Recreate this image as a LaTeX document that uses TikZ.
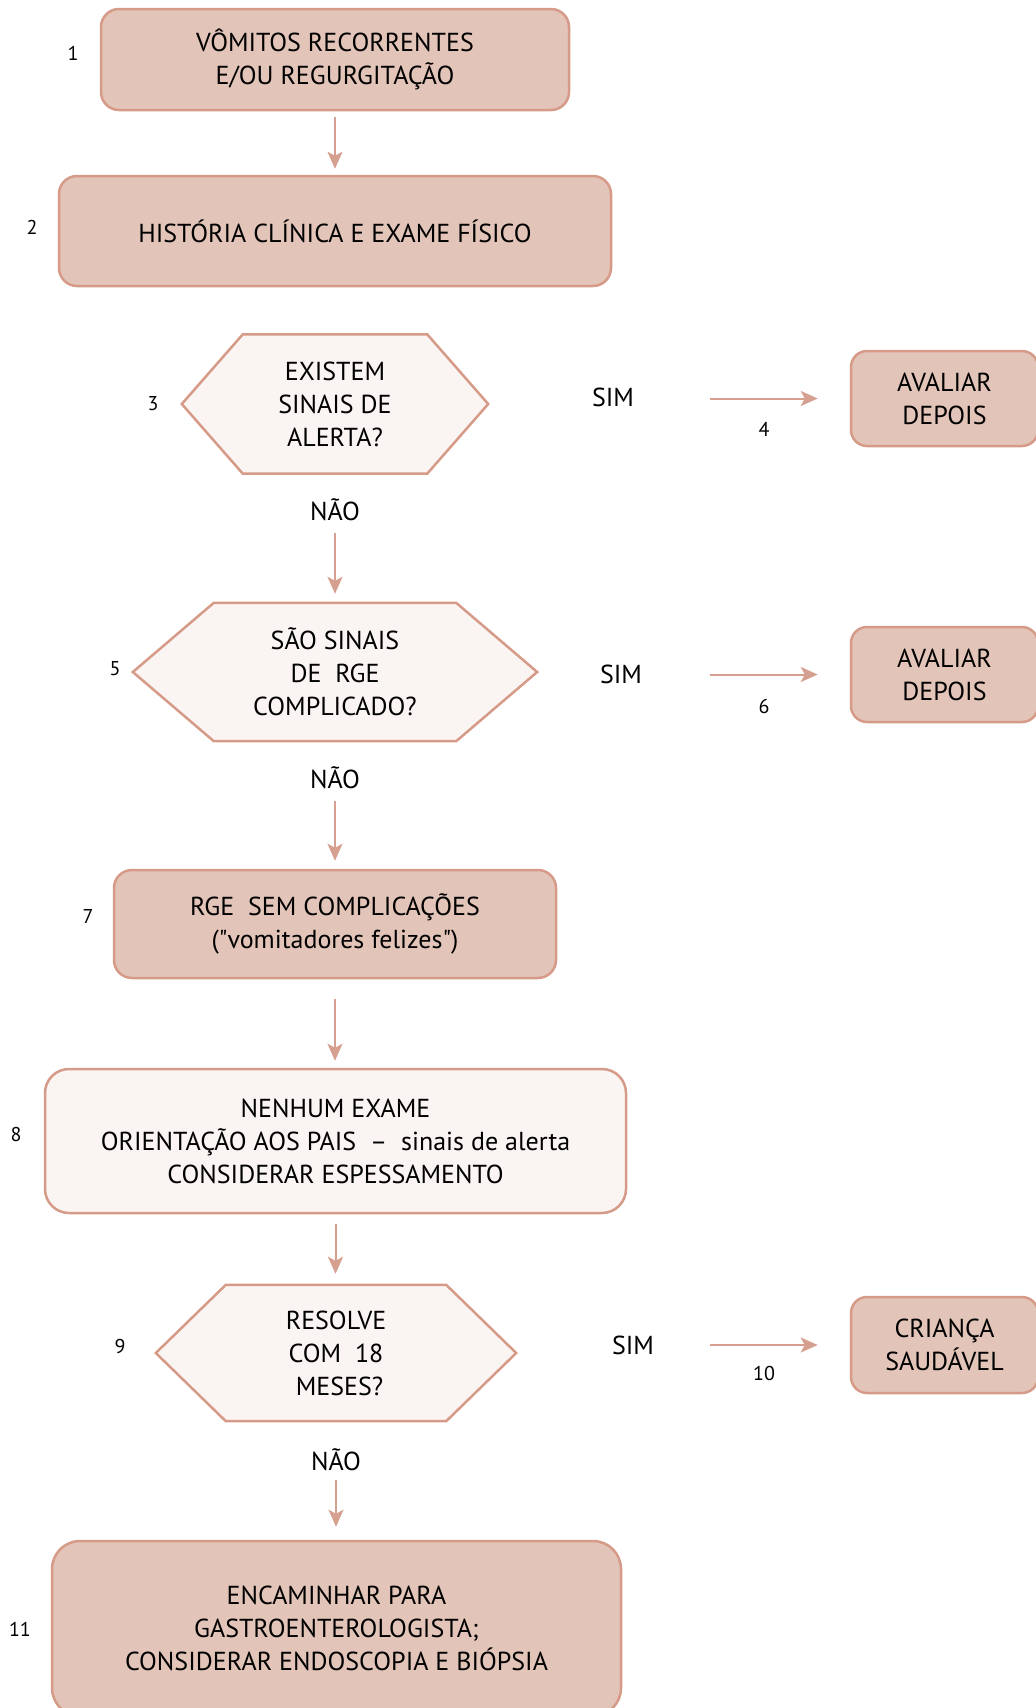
\documentclass[tikz,border=0pt]{standalone}
\usepackage{fontspec}
\setmainfont{PT Sans}
\newfontfamily\qfont{PT Sans}[Ligatures=TeXOff]
\usetikzlibrary{arrows.meta,calc,backgrounds}
\definecolor{boxfill}{RGB}{227,196,184}
\definecolor{boxline}{RGB}{214,155,136}
\definecolor{lightfill}{RGB}{250,244,242}
\definecolor{arrowc}{RGB}{214,160,144}
\newcommand{\sq}{{\qfont"}}
\begin{document}
\begin{tikzpicture}[x=1pt,y=-1pt,
  txt/.style={font=\fontsize{26}{33}\selectfont, align=center, inner sep=0pt},
  box/.style={txt, draw=boxline, line width=2.5pt, fill=boxfill, rounded corners=18pt},
  lightbox/.style={box, fill=lightfill, rounded corners=24pt},
  hexnode/.style={txt},
  hexline/.style={draw=boxline, line width=2.5pt, fill=lightfill, line join=miter},
  num/.style={font=\fontsize{20}{24}\selectfont, inner sep=0pt},
  arr/.style={draw=arrowc, line width=2pt, -{Stealth[length=17pt,width=15pt,inset=4pt]}},
]
\useasboundingbox (0,0) rectangle (1036,1708);

% row 1
\node[box, minimum width=468pt, minimum height=101pt] (b1) at (335,59.5) {VÔMITOS RECORRENTES\\E/OU REGURGITAÇÃO};
\node[num] (l1) at (73,53) {1};
% row 2
\node[box, minimum width=552pt, minimum height=110pt] (b2) at (335,231) {HISTÓRIA CLÍNICA E EXAME FÍSICO};
\node[num] (l2) at (32,227) {2};
% hex 3
\node[hexnode, minimum width=306pt, minimum height=139pt] (h3) at (335,404) {EXISTEM\\SINAIS DE\\ALERTA?};
\node[num] (l3) at (153,404) {3};
\node[txt] (s1) at (613,397) {SIM};
\node[num] (l4) at (764,429) {4};
\node[box, rounded corners=16pt, minimum width=187pt, minimum height=95pt] (b4) at (944.5,398.5) {AVALIAR\\DEPOIS};
\node[txt] (n1) at (335,510) {NÃO};
% hex 5
\node[hexnode, minimum width=404pt, minimum height=138pt] (h5) at (335,672) {SÃO SINAIS\\DE\ \ RGE\\COMPLICADO?};
\node[num] (l5) at (115,669) {5};
\node[txt] (s2) at (621,674) {SIM};
\node[num] (l6) at (764,706) {6};
\node[box, rounded corners=16pt, minimum width=187pt, minimum height=95pt] (b6) at (944.5,674.5) {AVALIAR\\DEPOIS};
\node[txt] (n2) at (335,778) {NÃO};
% box 7
\node[box, minimum width=442pt, minimum height=108pt] (b7) at (335,924) {RGE\ \ SEM COMPLICAÇÕES\\(\sq vomitadores felizes\sq)};
\node[num] (l7) at (88,916) {7};
% box 8
\node[lightbox, minimum width=581pt, minimum height=144pt] (b8) at (335.5,1141) {NENHUM EXAME\\ORIENTAÇÃO AOS PAIS\ \ –\ \ sinais de alerta\\CONSIDERAR ESPESSAMENTO};
\node[num] (l8) at (16,1134) {8};
% hex 9
\node[hexnode, minimum width=360pt, minimum height=136pt] (h9) at (336,1353) {RESOLVE\\COM\ \ 18\\\ MESES?};
\node[num] (l9) at (120,1346) {9};
\node[txt] (s3) at (633,1345) {SIM};
\node[num] (l10) at (764,1373) {10};
\node[box, rounded corners=16pt, minimum width=187pt, minimum height=96pt] (b10) at (944.5,1345) {CRIANÇA\\SAUDÁVEL};
\node[txt] (n3) at (336,1460) {NÃO};
% box 11
\node[box, rounded corners=28pt, minimum width=569pt, minimum height=175pt] (b11) at (336.5,1628.5) {ENCAMINHAR PARA\\GASTROENTEROLOGISTA;\\CONSIDERAR ENDOSCOPIA E BIÓPSIA};
\node[num] (l11) at (20,1629) {11};

% hexagon outlines
\begin{scope}[on background layer]
\draw[hexline] (h3.west) -- ($(h3.north west)+(61,0)$) -- ($(h3.north east)+(-61,0)$) -- (h3.east) -- ($(h3.south east)+(-61,0)$) -- ($(h3.south west)+(61,0)$) -- cycle;
\draw[hexline] (h5.west) -- ($(h5.north west)+(81,0)$) -- ($(h5.north east)+(-81,0)$) -- (h5.east) -- ($(h5.south east)+(-81,0)$) -- ($(h5.south west)+(81,0)$) -- cycle;
\draw[hexline] (h9.west) -- ($(h9.north west)+(70,0)$) -- ($(h9.north east)+(-70,0)$) -- (h9.east) -- ($(h9.south east)+(-70,0)$) -- ($(h9.south west)+(70,0)$) -- cycle;
\end{scope}

% connectors
\draw[arr, shorten <=6pt, shorten >=6pt] (b1.south) -- (b1.south |- b2.north);
\draw[arr, shorten <=12pt, shorten >=9pt] (n1.south) -- (n1.south |- h5.north);
\draw[arr, shorten <=12pt, shorten >=8pt] (n2.south) -- (n2.south |- b7.north);
\draw[arr, shorten <=20pt, shorten >=7pt] (b7.south) -- (b7.south |- b8.north);
\draw[arr, shorten <=10pt, shorten >=11pt] (b8.south) -- (b8.south |- h9.north);
\draw[arr, shorten <=9pt, shorten >=13pt] (n3.south) -- (n3.south |- b11.north);
\draw[arr, shorten <=76pt, shorten >=32pt] (s1.east |- b4.west) -- (b4.west);
\draw[arr, shorten <=68pt, shorten >=32pt] (s2.east |- b6.west) -- (b6.west);
\draw[arr, shorten <=56pt, shorten >=32pt] (s3.east |- b10.west) -- (b10.west);
\end{tikzpicture}
\end{document}
